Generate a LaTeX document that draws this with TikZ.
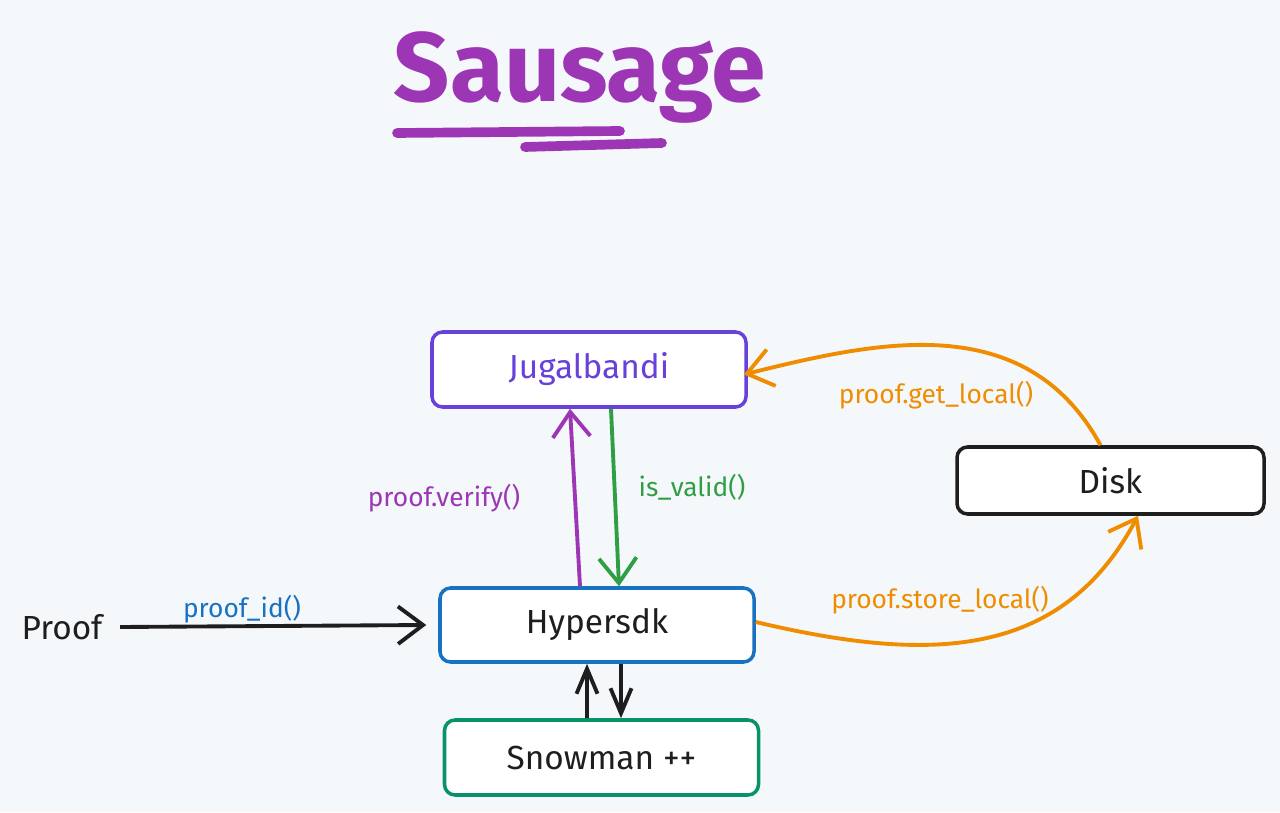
\documentclass[tikz,border=0pt]{standalone}
\usepackage{fontspec}
\setmainfont{Fira Sans}
\usetikzlibrary{arrows.meta, positioning, calc}
\definecolor{cbg}{HTML}{F5F8FB}
\definecolor{cink}{HTML}{1E1E1E}
\definecolor{cviolet}{HTML}{6741D9}
\definecolor{cpurple}{HTML}{9C36B5}
\definecolor{cgreen}{HTML}{2F9E44}
\definecolor{cblue}{HTML}{1971C2}
\definecolor{cteal}{HTML}{099268}
\definecolor{corange}{HTML}{F08C00}
\tikzset{
  every picture/.style={line width=2pt},
  box/.style={draw=#1, fill=white, rounded corners=6pt, minimum width=6.28cm, minimum height=1.5cm, font=\fontsize{19}{22}\selectfont, text=cink},
  box/.default=cink,
  arrow/.style={-{Straight Barb[length=5mm, width=7.5mm]}, draw=#1, line width=2.2pt},
  arrow/.default=cink,
  shortarrow/.style={-{Straight Barb[length=5mm, width=4.2mm]}, draw=cink, line width=2.2pt},
  tag/.style={text=#1, font=\fontsize{15}{18}\selectfont},
  stroke/.style={draw=cpurple, line width=5.5pt, line cap=round},
}

\begin{document}
\begin{tikzpicture}
  \useasboundingbox[fill=cbg] (0,0) rectangle (25.6,16.24);
  % title
  \node[font=\fontsize{56}{62}\selectfont\bfseries, text=cpurple, anchor=base] (title) at (11.6, 14.2) {Sausage};
  \draw[stroke] (7.94,13.58) -- (12.4,13.62);
  \draw[stroke] (10.5,13.3) -- (13.24,13.38);
  % boxes
  \node[box=cviolet, text=cviolet] (jug) at (11.78, 8.85) {Jugalbandi};
  \node[box, minimum width=6.14cm, minimum height=1.34cm] (disk) at (22.21, 6.63) {Disk};
  \node[box=cblue, minimum height=1.48cm] (hyp) at (11.94, 3.74) {Hypersdk};
  \node[box=cteal] (snow) at (12.03, 1.09) {Snowman ++};
  \node[font=\fontsize{19}{22}\selectfont, text=cink] (proof) at (1.24, 3.70) {Proof};
  % calls
  \draw[arrow] ([xshift=0.2cm]proof.east) -- ([xshift=-0.24cm]hyp.west);
  \draw[arrow=cpurple] ([xshift=-0.34cm]hyp.north) -- ([xshift=-0.38cm]jug.south);
  \draw[arrow=cgreen] ([xshift=0.44cm]jug.south) -- ([xshift=0.44cm]hyp.north);
  \draw[shortarrow] ([xshift=-0.29cm]snow.north) -- ([xshift=-0.2cm]hyp.south);
  \draw[shortarrow] ([xshift=0.48cm]hyp.south) -- ([xshift=0.39cm]snow.north);
  \draw[arrow=corange] ([yshift=0.06cm]hyp.east) .. controls (18.5, 3.0) and (21.2, 3.0) .. ([xshift=0.55cm]disk.south);
  \draw[arrow=corange] ([xshift=-0.2cm]disk.north) .. controls (20.5, 10.1) and (17.5, 9.4) .. ([xshift=-0.08cm, yshift=-0.1cm]jug.east);
  % labels
  \node[tag=cpurple] (verifytag) at (8.88, 6.28) {proof.verify()};
  \node[tag=cgreen] (validtag) at (13.84, 6.5) {is\_valid()};
  \node[tag=cblue] (idtag) at (4.84, 4.06) {proof\_id()};
  \node[tag=corange] (storetag) at (18.8, 4.24) {proof.store\_local()};
  \node[tag=corange] (gettag) at (18.72, 8.34) {proof.get\_local()};
\end{tikzpicture}
\end{document}
